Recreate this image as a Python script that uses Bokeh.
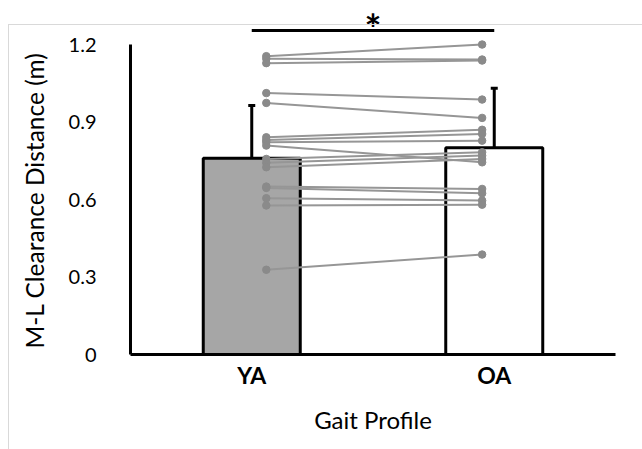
from bokeh.plotting import figure
from bokeh.models import (FactorRange, Range1d, FixedTicker, Whisker, ColumnDataSource,
                          TeeHead, Title, InlineStyleSheet)
from bokeh.embed import file_html
from bokeh.resources import INLINE

# ---- data ----
groups = ["YA", "OA"]
means = [0.76, 0.80]
errors = [0.204, 0.231]
bar_colors = ["#a6a6a6", "#ffffff"]

ya_vals = [1.155, 1.145, 1.128, 1.012, 0.974, 0.841, 0.830, 0.822, 0.809,
           0.757, 0.742, 0.725, 0.650, 0.645, 0.605, 0.577, 0.328]
oa_vals = [1.200, 1.142, 1.138, 0.987, 0.916, 0.870, 0.854, 0.828, 0.744,
           0.783, 0.770, 0.757, 0.641, 0.624, 0.596, 0.580, 0.387]

sig_y = 1.254
sig_text = "*"
y_ticks = [0, 0.3, 0.6, 0.9, 1.2]
y_tick_labels = ["0", "0.3", "0.6", "0.9", "1.2"]
x_title = "Gait Profile"
y_title = "M-L Clearance Distance (m)"

FONT = "Lato"

p = figure(x_range=FactorRange(*groups), y_range=Range1d(0, 1.3705),
           width=642, height=449, output_backend="svg", toolbar_location=None,
           min_border_left=130, min_border_right=27, min_border_top=0,
           min_border_bottom=95)
p.xgrid.visible = False
p.ygrid.visible = False
p.outline_line_color = None

# light chart-area border (top and left edges only visible in the window)
p.stylesheets = [InlineStyleSheet(css="""
:host::after {
  content: ""; position: absolute; left: 8px; top: 24px; right: 0; bottom: 0;
  border-top: 1px solid #d9d9d9; border-left: 1px solid #d9d9d9;
  pointer-events: none;
}
""")]

# bars
p.vbar(x=groups, top=means, width=0.4, fill_color=bar_colors,
       line_color="black", line_width=3)

# paired individual lines + points
n = len(ya_vals)
x_ya = [("YA", 0.06)] * n
x_oa = [("OA", -0.05)] * n
p.segment(x0=x_ya, y0=ya_vals, x1=x_oa, y1=oa_vals, line_color="#969696", line_width=2)
p.scatter(x=x_ya, y=ya_vals, size=7.5, fill_color="#8a8a8a", line_color="#8a8a8a")
p.scatter(x=x_oa, y=oa_vals, size=7.5, fill_color="#8a8a8a", line_color="#8a8a8a")

# error bars
err_src = ColumnDataSource(dict(
    x=groups,
    upper=[m + e for m, e in zip(means, errors)],
    lower=[m - e for m, e in zip(means, errors)],
))
w = Whisker(source=err_src, base="x", upper="upper", lower="lower",
            line_width=3, line_color="black",
            upper_head=TeeHead(size=7, line_width=3, line_color="black"),
            lower_head=TeeHead(size=7, line_width=3, line_color="black"))
p.add_layout(w)

# significance bar
p.segment(x0=["YA"], y0=[sig_y], x1=["OA"], y1=[sig_y], line_color="black", line_width=3)
p.text(x=[("YA", 0.5)], y=[1.262], text=[sig_text], text_align="center",
       text_baseline="alphabetic", text_font_size="40px", text_font_style="bold",
       text_color="black", text_font={"value": FONT})

# y axis
p.yaxis.ticker = FixedTicker(ticks=y_ticks)
p.yaxis.major_label_overrides = dict(zip(y_ticks, y_tick_labels))
p.yaxis.bounds = (0, 1.2)
p.yaxis.axis_line_width = 3
p.yaxis.axis_line_color = "black"
p.yaxis.major_tick_line_color = None
p.yaxis.minor_tick_line_color = None
p.yaxis.major_label_standoff = 28
p.yaxis.major_label_text_font = FONT
p.yaxis.major_label_text_font_size = "20px"
p.yaxis.major_label_text_color = "black"

yt = Title(text=y_title, align="left", offset=6, standoff=34,
           text_font=FONT, text_font_size="24.5px", text_font_style="normal",
           text_color="black")
p.add_layout(yt, "left")

# x axis
p.xaxis.axis_line_width = 3
p.xaxis.axis_line_color = "black"
p.xaxis.major_tick_line_color = None
p.xaxis.minor_tick_line_color = None
p.xaxis.major_label_standoff = 0
p.xaxis.major_label_text_font = FONT
p.xaxis.major_label_text_font_size = "23px"
p.xaxis.major_label_text_font_style = "bold"
p.xaxis.major_label_text_color = "black"
p.xaxis.axis_label = x_title
p.xaxis.axis_label_standoff = 13
p.xaxis.axis_label_text_font = FONT
p.xaxis.axis_label_text_font_size = "24px"
p.xaxis.axis_label_text_font_style = "normal"
p.xaxis.axis_label_text_color = "black"

open("out.html", "w").write(file_html(p, INLINE))
